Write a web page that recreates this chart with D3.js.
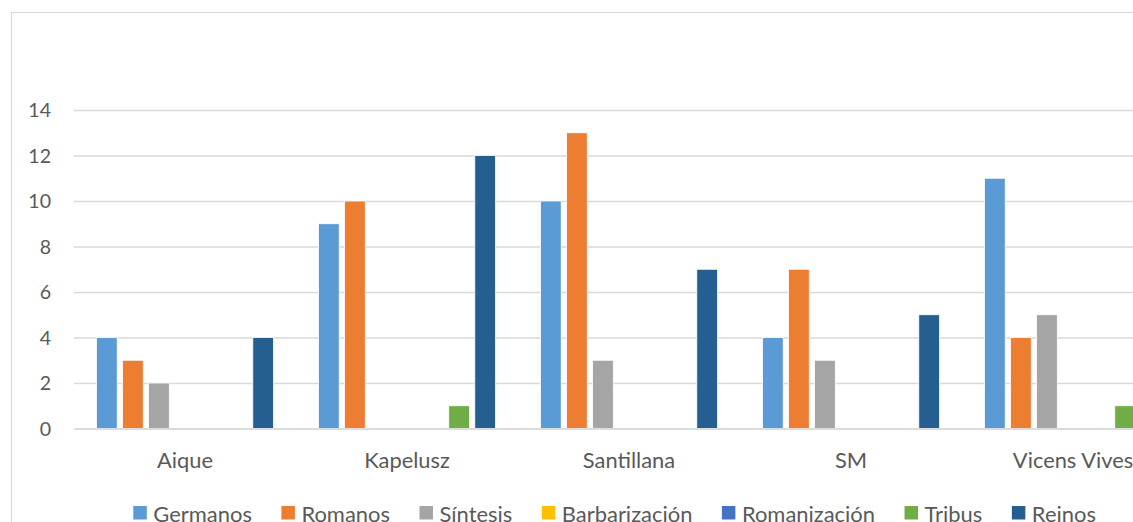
<!DOCTYPE html>
<html>
<head>
<meta charset="utf-8">
<script src="https://cdn.jsdelivr.net/npm/d3@7"></script>
<style>
  html, body { margin: 0; padding: 0; background: #fff; overflow: hidden; }
  svg { display: block; }
</style>
</head>
<body>
<svg id="chart" width="1133" height="522"></svg>
<script>
const categories = ["Aique", "Kapelusz", "Santillana", "SM", "Vicens Vives"];
const seriesNames = ["Germanos", "Romanos", "Síntesis", "Barbarización", "Romanización", "Tribus", "Reinos"];
const germanos      = [4, 9, 10, 4, 11];
const romanos       = [3, 10, 13, 7, 4];
const sintesis      = [2, 0, 3, 3, 5];
const barbarizacion = [0, 0, 0, 0, 0];
const romanizacion  = [0, 0, 0, 0, 0];
const tribus        = [0, 1, 0, 0, 1];
const reinos        = [4, 12, 7, 5, 0];
const yTicks = [0, 2, 4, 6, 8, 10, 12, 14];
const seriesColors = ["#5B9BD5", "#ED7D31", "#A5A5A5", "#FFC000", "#4472C4", "#70AD47", "#255E91"];

const seriesValues = [germanos, romanos, sintesis, barbarizacion, romanizacion, tribus, reinos];
const FONT = "Lato, 'Open Sans', sans-serif";
const TEXT = "#595959";
const GRID = "#D9D9D9";

const svg = d3.select("#chart");

// measure helper to size text similarly to the reference
function textWidth(str, size) {
  const t = svg.append("text").attr("font-family", FONT).attr("font-size", size).text(str);
  const w = t.node().getComputedTextLength();
  t.remove();
  return w;
}
function fitSize(str, target) { return 100 * target / textWidth(str, 100); }
const tickSize = fitSize("14", 22.7);
const catSize = (fitSize("Santillana", 94) + fitSize("Kapelusz", 84.7) + fitSize("Aique", 55.7)) / 3;
const legSize = 100 * 646 / d3.sum(seriesNames, n => textWidth(n, 100));

// chart border (cropped on right/bottom)
svg.append("rect")
  .attr("x", 11.5).attr("y", 12.5)
  .attr("width", 1300).attr("height", 600)
  .attr("fill", "none").attr("stroke", GRID).attr("stroke-width", 1.2);

const plotLeft = 74, band = 222;
const x0 = d3.scaleBand().domain(categories)
  .range([plotLeft, plotLeft + band * categories.length]).padding(0);
const x1 = d3.scaleBand().domain(seriesNames)
  .range([22.5, band - 22.5]).paddingInner(0.205).paddingOuter(0);
const y = d3.scaleLinear().domain([0, 14]).range([428.5, 110]);

// gridlines
const yAxis = d3.axisLeft(y).tickValues(yTicks)
  .tickSize(-(band * categories.length)).tickPadding(23).tickFormat(d3.format("d"));
const gy = svg.append("g").attr("transform", `translate(${plotLeft},0)`).call(yAxis);
gy.select(".domain").remove();
gy.selectAll(".tick line").attr("stroke", GRID).attr("stroke-width", 1.3);
gy.selectAll(".tick text")
  .attr("fill", TEXT).attr("font-family", FONT).attr("font-size", tickSize)
  .attr("x", 51 - plotLeft).attr("dy", "0.35em");

// bars
const groups = svg.append("g").selectAll("g")
  .data(categories)
  .join("g")
  .attr("transform", d => `translate(${x0(d)},0)`);

groups.selectAll("rect")
  .data((c, ci) => seriesNames.map((s, si) => ({ s, si, v: seriesValues[si][ci] })).filter(d => d.v > 0))
  .join("rect")
  .attr("x", d => x1(d.s))
  .attr("width", x1.bandwidth())
  .attr("y", d => y(d.v))
  .attr("height", d => y(0) - y(d.v))
  .attr("fill", d => seriesColors[d.si])
  .attr("stroke", "#fff").attr("stroke-width", 0.8);

// category axis
const xAxis = d3.axisBottom(x0).tickSize(0).tickPadding(0);
const gx = svg.append("g").attr("transform", `translate(0,${y(0)})`).call(xAxis);
gx.select(".domain").attr("stroke", GRID).attr("stroke-width", 1.3);
gx.selectAll(".tick text")
  .attr("fill", TEXT).attr("font-family", FONT).attr("font-size", catSize)
  .attr("y", 0).attr("dy", 0)
  .attr("transform", `translate(0,${468 - y(0)})`);

// legend (flow layout, cropped at the bottom like the reference)
const legend = svg.append("g");
const markerTop = 506, markerSize = 13.5;
let lx = 133.3;
seriesNames.forEach((name, i) => {
  legend.append("rect")
    .attr("x", lx).attr("y", markerTop).attr("width", markerSize).attr("height", markerSize)
    .attr("fill", seriesColors[i]);
  const t = legend.append("text")
    .attr("x", lx + 20).attr("y", markerTop + 0.72 * legSize)
    .attr("fill", TEXT).attr("font-family", FONT).attr("font-size", legSize)
    .text(name);
  lx += 20 + t.node().getComputedTextLength() + 29.5;
});
</script>
</body>
</html>
